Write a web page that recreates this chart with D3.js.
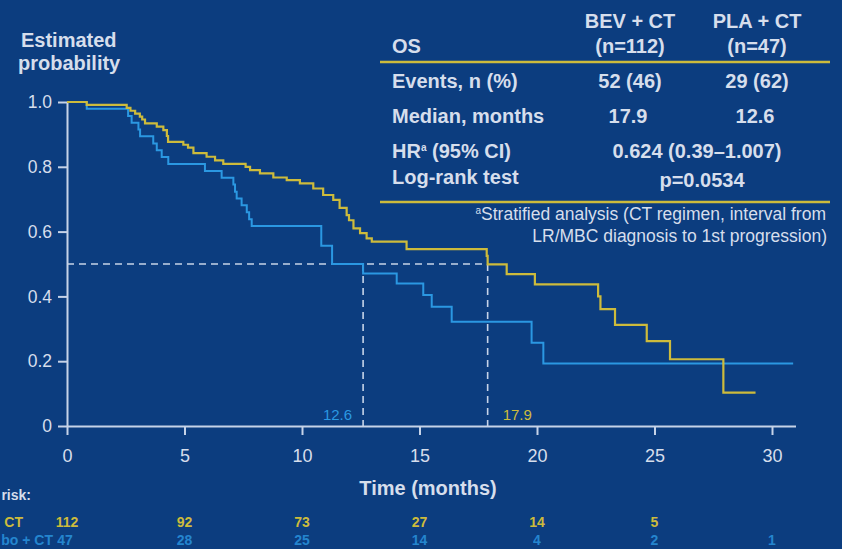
<!DOCTYPE html>
<html>
<head>
<meta charset="utf-8">
<script src="https://cdn.jsdelivr.net/npm/d3@7"></script>
<style>
html, body { margin: 0; padding: 0; background: #0c3d7f; overflow: hidden; }
svg { display: block; font-family: "Liberation Sans", Arial, sans-serif; }
</style>
</head>
<body>
<svg id="km" width="842" height="549"></svg>
<script>
// Kaplan-Meier steps [month, survival]
const bevSteps = [
    [0, 1.0], [0.84, 0.991], [2.54, 0.982], [2.7, 0.973], [2.9, 0.964], [3.1, 0.955],
    [3.2, 0.946], [3.32, 0.934], [3.82, 0.924], [4.1, 0.913], [4.25, 0.895], [4.3, 0.877],
    [4.95, 0.868], [5.15, 0.859], [5.38, 0.842], [5.94, 0.831], [6.3, 0.82], [6.65, 0.809],
    [7.6, 0.8], [7.79, 0.79], [8.21, 0.78], [8.78, 0.767], [9.35, 0.759], [9.91, 0.749],
    [10.48, 0.733], [10.9, 0.713], [11.33, 0.698], [11.6, 0.673], [11.9, 0.651], [12.0, 0.635],
    [12.19, 0.61], [12.47, 0.595], [12.75, 0.579], [12.97, 0.569], [14.45, 0.546],
    [17.86, 0.525], [17.9, 0.499], [18.71, 0.469], [19.91, 0.437], [22.6, 0.4], [22.7, 0.361],
    [23.32, 0.312], [24.67, 0.262], [25.66, 0.206], [27.93, 0.103]
];
const bevEnd = 29.3;

const plaSteps = [
    [0, 1.0], [0.84, 0.979], [2.6, 0.957], [2.75, 0.936], [3.04, 0.915], [3.11, 0.894],
    [3.67, 0.872], [3.82, 0.851], [4.03, 0.83], [4.31, 0.809], [5.87, 0.787], [6.58, 0.766],
    [7.08, 0.745], [7.15, 0.723], [7.22, 0.702], [7.43, 0.681], [7.65, 0.66], [7.75, 0.638],
    [7.86, 0.617], [10.82, 0.556], [11.28, 0.5], [12.6, 0.471], [14.03, 0.44], [15.16, 0.404],
    [15.52, 0.368], [16.37, 0.322], [19.77, 0.257], [20.27, 0.193]
];
const plaEnd = 30.9;

const xTicks = [0, 5, 10, 15, 20, 25, 30];
const yTicks = [0, 0.2, 0.4, 0.6, 0.8, 1.0];
const medianBev = 17.9;
const medianPla = 12.6;

const riskTimes = [0, 5, 10, 15, 20, 25, 30];
const riskBev = [112, 92, 73, 27, 14, 5];
const riskPla = [47, 28, 25, 14, 4, 2, 1];
// only the right-hand part of the row labels shows in the picture
const riskLabels = ['risk:', 'CT', 'bo + CT'];

const armNames = ['BEV + CT', 'PLA + CT'];
const armNs = ['(n=112)', '(n=47)'];
const armEvents = ['52 (46)', '29 (62)'];
const armMedians = ['17.9', '12.6'];
const hrText = '0.624 (0.39\u20131.007)';
const pText = 'p=0.0534';

const axisColor = '#c6d3e8',
    textColor = '#d6deec',
    yellow = '#cdbb3c',
    blue = '#2b98e2';

const svg = d3.select('#km');

const x = d3.scaleLinear().domain([0, 31]).range([67, 795.5]);
const y = d3.scaleLinear().domain([0, 1]).range([426, 102]);

// axes
const xAxis = svg.append('g')
    .attr('transform', `translate(0,${y(0)})`)
    .call(d3.axisBottom(x).tickValues(xTicks).tickSize(9).tickSizeOuter(0).tickPadding(14));
const yAxis = svg.append('g')
    .attr('transform', `translate(${x(0)},0)`)
    .call(d3.axisLeft(y).tickValues(yTicks).tickSize(9).tickSizeOuter(0).tickPadding(6)
        .tickFormat((d) => (d === 0 ? '0' : d3.format('.1f')(d))));

[xAxis, yAxis].forEach((g) => {
    g.select('.domain').attr('stroke', axisColor).attr('stroke-width', 2);
    g.selectAll('.tick line').attr('stroke', axisColor).attr('stroke-width', 2);
    g.selectAll('.tick text').attr('fill', textColor).style('font-family', '"Liberation Sans", Arial, sans-serif');
});
xAxis.selectAll('.tick text').style('font-size', '18px');
yAxis.selectAll('.tick text').style('font-size', '17.5px');

// axis titles
svg.append('text').attr('x', 21).attr('y', 47).attr('fill', textColor)
    .style('font-size', '20px').style('font-weight', 'bold').text('Estimated');
svg.append('text').attr('x', 18).attr('y', 70).attr('fill', textColor)
    .style('font-size', '20px').style('font-weight', 'bold').text('probability');
svg.append('text').attr('x', 428).attr('y', 495).attr('text-anchor', 'middle').attr('fill', textColor)
    .style('font-size', '20px').style('font-weight', 'bold').text('Time (months)');

// median guides
const dash = '7,5';
svg.append('line')
    .attr('x1', x(0)).attr('x2', x(medianBev)).attr('y1', y(0.5)).attr('y2', y(0.5))
    .attr('stroke', axisColor).attr('stroke-width', 1.6).attr('stroke-dasharray', dash);
[medianPla, medianBev].forEach((m) => {
    svg.append('line')
        .attr('x1', x(m)).attr('x2', x(m)).attr('y1', y(0.5)).attr('y2', y(0))
        .attr('stroke', axisColor).attr('stroke-width', 1.6).attr('stroke-dasharray', dash);
});
svg.append('text').attr('x', x(medianPla) - 11).attr('y', 420).attr('text-anchor', 'end')
    .attr('fill', blue).style('font-size', '15px').text('12.6');
svg.append('text').attr('x', x(medianBev) + 15).attr('y', 420)
    .attr('fill', yellow).style('font-size', '15px').text('17.9');

// KM curves
const kmLine = d3.line()
    .x((d) => x(d[0]))
    .y((d) => y(d[1]))
    .curve(d3.curveStepAfter);

const plaData = plaSteps.concat([[plaEnd, plaSteps[plaSteps.length - 1][1]]]);
const bevData = bevSteps.concat([[bevEnd, bevSteps[bevSteps.length - 1][1]]]);

svg.append('path').datum(plaData).attr('d', kmLine)
    .attr('fill', 'none').attr('stroke', blue).attr('stroke-width', 2);
svg.append('path').datum(bevData).attr('d', kmLine)
    .attr('fill', 'none').attr('stroke', yellow).attr('stroke-width', 2.2);

// summary table
const table = svg.append('g').style('font-weight', 'bold').style('font-size', '20px').attr('fill', textColor);
const colX = [630, 757];
table.append('text').attr('x', 392).attr('y', 53).text('OS');
armNames.forEach((d, i) => table.append('text').attr('x', colX[i]).attr('y', 28).attr('text-anchor', 'middle').text(d));
armNs.forEach((d, i) => table.append('text').attr('x', colX[i]).attr('y', 53).attr('text-anchor', 'middle').text(d));
table.append('text').attr('x', 392).attr('y', 88).text('Events, n (%)');
armEvents.forEach((d, i) => table.append('text').attr('x', colX[i]).attr('y', 88).attr('text-anchor', 'middle').text(d));
table.append('text').attr('x', 392).attr('y', 123).text('Median, months');
armMedians.forEach((d, i) => table.append('text').attr('x', colX[i] - 2).attr('y', 123).attr('text-anchor', 'middle').text(d));
const hr = table.append('text').attr('x', 392).attr('y', 158);
hr.append('tspan').text('HR');
hr.append('tspan').attr('dy', -7).style('font-size', '10px').text('a');
hr.append('tspan').attr('dy', 7).text(' (95% CI)');
table.append('text').attr('x', 697).attr('y', 158).attr('text-anchor', 'middle').text(hrText);
table.append('text').attr('x', 392).attr('y', 184).text('Log-rank test');
table.append('text').attr('x', 702).attr('y', 187).attr('text-anchor', 'middle').text(pText);

[62, 202].forEach((yy) => {
    svg.append('line').attr('x1', 380).attr('x2', 830).attr('y1', yy).attr('y2', yy)
        .attr('stroke', yellow).attr('stroke-width', 2.5);
});

const foot = svg.append('text').attr('x', 826).attr('y', 220).attr('text-anchor', 'end')
    .attr('fill', textColor).style('font-size', '17.5px');
foot.append('tspan').attr('dy', -6).style('font-size', '10px').text('a');
foot.append('tspan').attr('dy', 6).text('Stratified analysis (CT regimen, interval from');
svg.append('text').attr('x', 827).attr('y', 242).attr('text-anchor', 'end')
    .attr('fill', textColor).style('font-size', '17.5px').text('LR/MBC diagnosis to 1st progression)');

// numbers at risk
const risk = svg.append('g').style('font-weight', 'bold').style('font-size', '14px');
risk.append('text').attr('x', 31).attr('y', 500).attr('text-anchor', 'end').attr('fill', textColor).text(riskLabels[0]);
risk.append('text').attr('x', 23).attr('y', 527).attr('text-anchor', 'end').attr('fill', yellow).text(riskLabels[1]);
risk.append('text').attr('x', 53).attr('y', 545).attr('text-anchor', 'end').attr('fill', blue).attr('opacity', 0.8).text(riskLabels[2]);
risk.selectAll('.rb').data(riskBev).join('text')
    .attr('x', (d, i) => x(riskTimes[i])).attr('y', 527).attr('text-anchor', 'middle')
    .attr('fill', yellow).text((d) => d);
risk.selectAll('.rp').data(riskPla).join('text')
    .attr('x', (d, i) => x(riskTimes[i]) - (i === 0 ? 2 : 0)).attr('y', 545).attr('text-anchor', 'middle')
    .attr('fill', blue).attr('opacity', 0.8).text((d) => d);
</script>
</body>
</html>
